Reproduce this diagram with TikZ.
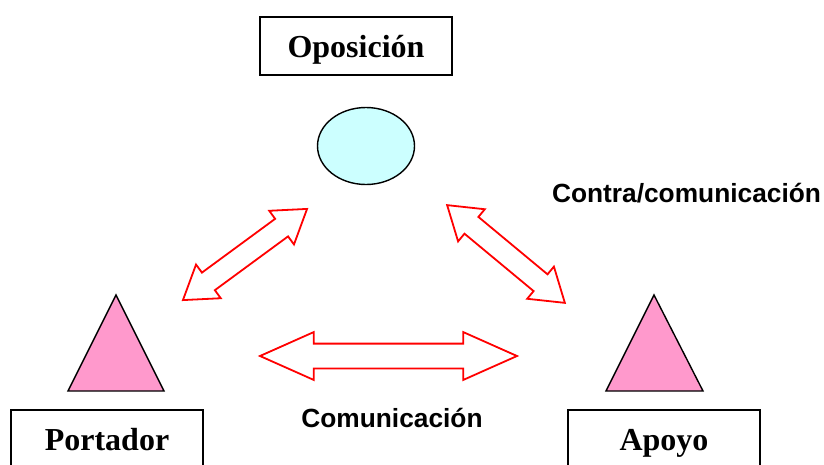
\documentclass[tikz,border=0pt]{standalone}
\usepackage{fontspec}
\setmainfont{Liberation Serif}
\setsansfont{Liberation Sans}
\usepackage{tikz}
\usetikzlibrary{shapes}
\usetikzlibrary{shapes.arrows}
\definecolor{skycyan}{HTML}{CCFFFF}
\definecolor{rosepink}{HTML}{FF99CC}

\begin{document}
\begin{tikzpicture}[x=1pt, y=-1pt,
  role/.style={draw, line width=1.4pt, minimum width=192pt, minimum height=58pt,
    inner sep=0, text height=28pt, text depth=6pt,
    font=\bfseries\fontsize{32}{32}\selectfont},
  tag/.style={anchor=base, inner sep=0, font=\sffamily\bfseries\fontsize{26.3}{26}\selectfont},
  dbl/.style={double arrow, draw=red, line width=1.8pt, inner xsep=0},
  person/.style={fill=rosepink, draw, line width=1.4pt, line join=miter}]
  \useasboundingbox (0, 0) rectangle (824, 464);
  \clip (0, 0) rectangle (824, 464);
  % roles
  \node[role] (oposicion) at (356, 46) {Oposición};
  \node[role] (portador) at (107, 439) {Portador};
  \node[role] (apoyo) at (664, 439) {Apoyo};
  \node[ellipse, draw, line width=1.4pt, fill=skycyan, minimum width=97pt,
    minimum height=77pt, inner sep=0] (op) at (366, 146) {};
  \draw[person] (68, 391) -- (116, 295) -- (164, 391) -- cycle;
  \draw[person] (606, 391) -- (654, 295) -- (703, 391) -- cycle;
  % arrows
  \node[dbl, minimum height=257pt, inner ysep=11.5pt, double arrow head extend=11.5pt,
    double arrow tip angle=48] (com) at (388.5, 356) {};
  \node[dbl, minimum height=154pt, inner ysep=10pt, double arrow head extend=10pt,
    double arrow tip angle=67, rotate=36.3] (izq) at (245, 254.5) {};
  \node[dbl, minimum height=153pt, inner ysep=10pt, double arrow head extend=10pt,
    double arrow tip angle=67, rotate=-39.7] (der) at (506, 254) {};
  \node[tag] (contra) at (686.5, 202) {Contra/comunicación};
  \node[tag] (comunic) at (392, 427) {Comunicación};
\end{tikzpicture}
\end{document}
